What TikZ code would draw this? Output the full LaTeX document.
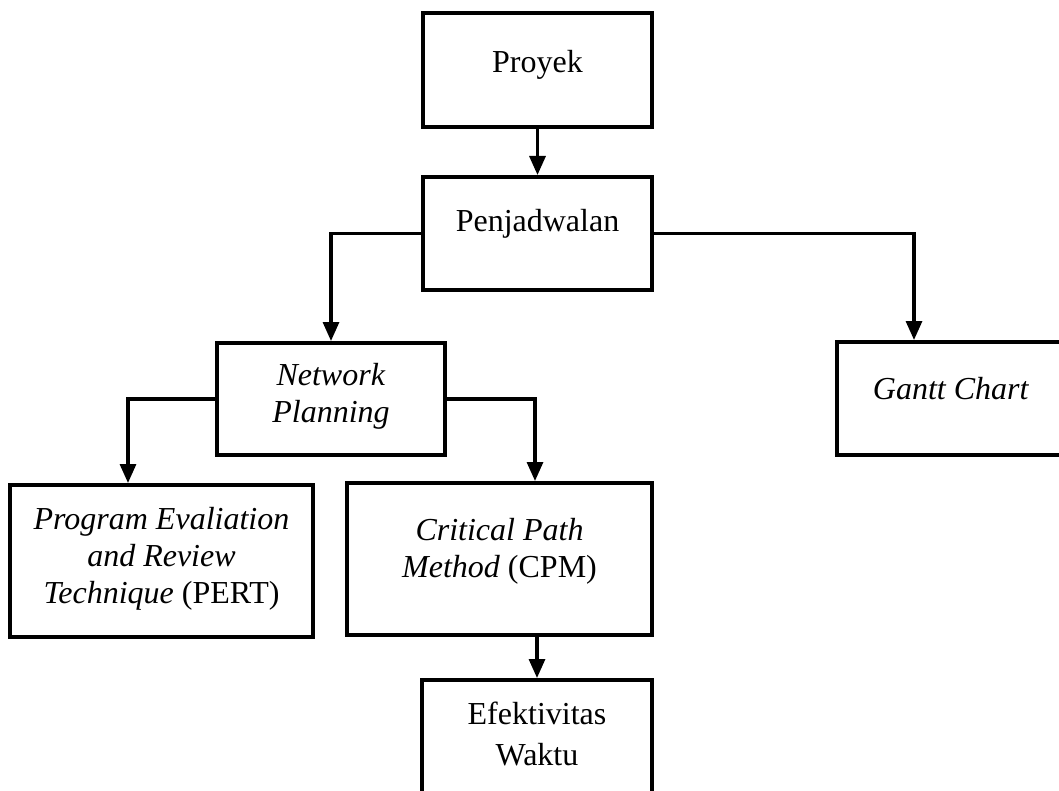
\documentclass[tikz,border=0pt]{standalone}
\usepackage{fontspec}
\setmainfont{Liberation Serif}
\usetikzlibrary{arrows.meta}

\tikzset{
  lift/.initial=10pt,
  box/.style 2 args={draw, line width=2pt, inner sep=0pt, minimum width=#1, minimum height=#2,
    font=\fontsize{16}{18.5}\selectfont,
    execute at begin node={\begin{minipage}[c][#2][c]{#1}\centering},
    execute at end node={\par\vspace{\pgfkeysvalueof{/tikz/lift}}\end{minipage}}},
  conn/.style={line width=1.6pt, -{Triangle[width=8pt,length=9.5pt]}},
}

\begin{document}
\begin{tikzpicture}[x=0.5pt, y=-0.5pt]
  \useasboundingbox (0,0) rectangle (1059,791);
  \clip (0,0) rectangle (1059,791);
  % boxes
  \node[lift=5pt, box={114.5pt}{57pt}] (proyek) at (537.5,70) {Proyek};
  \node[box={114.5pt}{56.5pt}] (jadwal) at (537.5,233.5) {Penjadwalan};
  \node[lift=3pt, box={114pt}{56pt}] (network) at (331,399) {\textit{Network}\\\textit{Planning}};
  \node[box={114pt}{56.5pt}] (gantt) at (951,398.5) {\textit{Gantt Chart}};
  \node[lift=2pt, box={151.5pt}{76pt}] (pert) at (161.5,561)
    {\textit{Program Evaliation}\\\textit{and Review}\\\textit{Technique} (PERT)};
  \node[lift=8pt, box={152.5pt}{76pt}] (cpm) at (499.5,559) {\textit{Critical Path}\\\textit{Method} (CPM)};
  \node[box={115pt}{64pt}] (efek) at (537,744) {Efektivitas\\[2pt]Waktu};
  % connectors
  \draw[conn] (proyek) -- (jadwal);
  \draw[conn] (jadwal.west) -| (network.north);
  \draw[conn] (jadwal.east) -| ([xshift=-18.5pt]gantt.north);
  \draw[conn] (network.west) -| ([xshift=-16.75pt]pert.north);
  \draw[conn] (network.east) -| ([xshift=17.75pt]cpm.north);
  \draw[conn] (efek.north |- cpm.south) -- (efek.north);
\end{tikzpicture}
\end{document}
